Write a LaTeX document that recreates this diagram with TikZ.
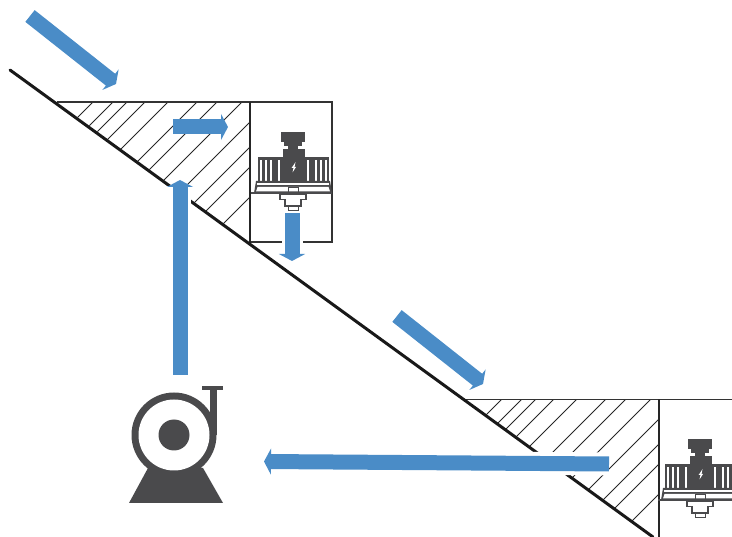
\documentclass[tikz,border=0pt]{standalone}
\usepackage{xcolor}
\usetikzlibrary{arrows.meta}
\definecolor{flowblue}{HTML}{4A8CC7}
\definecolor{machinegrey}{HTML}{4A4A4C}
\tikzset{
  motor/.pic={
    % knob and stem
    \fill[machinegrey] (-12,-36) rectangle (12,-26);
    \fill[machinegrey] (-9,-26) rectangle (9,-22);
    \fill[machinegrey] (-5,-22) rectangle (5,-19);
    \fill[machinegrey] (-10,-19) rectangle (12,-11);
    % finned body
    \fill[machinegrey] (-35,-11) rectangle (36,13);
    \foreach \fx in {-33,-28,-23,-15,14,22,27,32}
      \fill[white] (\fx,-8) rectangle ++(1.6,21);
    \fill[white] (0,-2) -- (2.5,-6) -- (1.5,-1) -- (3,-1) -- (-0.5,4.5) -- (0.5,0) -- (-1.5,0) -- cycle;
    % flange and shaft
    \fill[machinegrey] (-37,13) -- (37,13) -- (39,25) -- (-39,25) -- cycle;
    \fill[white] (-36,15) rectangle (36,17);
    \fill[white] (-35.5,19) -- (35.5,19) -- (37,23.5) -- (-37,23.5) -- cycle;
    \draw[machinegrey, line width=1.4pt] (-42,25) -- (39,25);
    \draw[machinegrey, line width=0.8pt] (-5,19) rectangle (5,25);
    \draw[machinegrey, line width=1.4pt] (-13,26.5) -- (13,26.5) -- (13,31.5) -- (8,31.5) -- (8,38) -- (-8,38) -- (-8,31.5) -- (-13,31.5) -- cycle;
    \draw[machinegrey, line width=1pt] (-5,38) rectangle (5,43);
  }
}
\begin{document}
\begin{tikzpicture}[x=1pt, y=-1pt]
  \tikzstyle{flow} = [line width=15pt, draw=flowblue, -{Triangle[length=7pt, width=26pt]}]
  \tikzstyle{halo} = [line width=23pt, draw=white]
  \tikzstyle{ground} = [line width=3pt, black!90, line cap=round]
  \tikzstyle{housing} = [line width=1.4pt, black!80]
  \tikzstyle{wall} = [line width=2pt, black!85]
  \tikzstyle{hatching} = [line width=1pt, black!85]
  \useasboundingbox (0,0) rectangle (732,537);
  \clip (0,0) rectangle (732,537);

  % hatched wedges
  \foreach \dx/\dy in {0/0, 408.5/297.5} {
    \begin{scope}[shift={(\dx,\dy)}]
      \begin{scope}
        \clip (57,102) -- (250,102) -- (250,243) -- cycle;
        \foreach \c in {195,215,229,247,270,299,319,344,372,397,417,447}
          \draw[hatching] (\c-102,102) -- (\c-243,243);
      \end{scope}
      \draw[housing] (57,102) -- (332,102) -- (332,242) -- (250,242);
      \draw[wall] (250,102) -- (250,243);
    \end{scope}
  }
  \draw[ground] (10,70) -- (653,537);

  % motors
  \pic at (293,168) {motor};
  \pic at (700,475) {motor};

  % pump
  \fill[machinegrey] (129,503) -- (223,503) -- (203,468) -- (148,468) -- cycle;
  \fill[machinegrey] (210,392) rectangle (217,435);
  \fill[machinegrey] (202,386) rectangle (222.5,390);
  \fill[machinegrey] (210,386) rectangle (217,392);
  \fill[machinegrey] (174,435) circle (42.5);
  \fill[white] (174,435) circle (35.5);
  \fill[machinegrey] (174,435) circle (15.5);

  % flows
  \draw[flow] (30,16) -- (116,84);
  \draw[flow] (173,127) -- (228,127);
  \draw[draw=white, line width=25pt] (178,375) -- (178,186);
  \draw[flow] (180,375) -- (180,180);
  \draw[draw=white, line width=21pt] (292,213) -- (292,254);
  \draw[flow] (292,213) -- (292,261);
  \draw[flow] (397,316) -- (483,384);
  \draw[halo] (609,464) -- (270,461.5);
  \draw[flow] (609,464) -- (264,461.5);
\end{tikzpicture}
\end{document}
